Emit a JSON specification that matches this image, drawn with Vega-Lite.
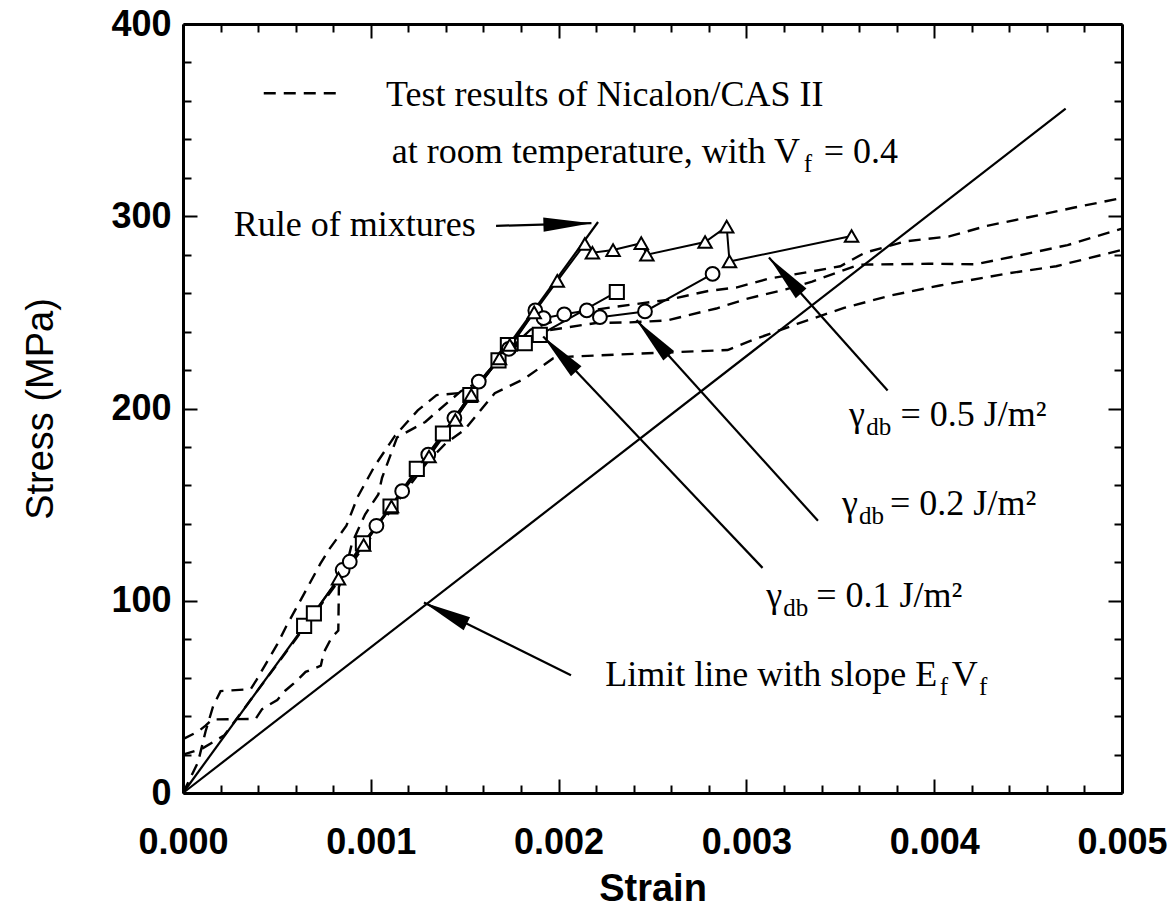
{
  "$schema": "https://vega.github.io/schema/vega-lite/v6.json",
  "width": 939,
  "height": 769,
  "autosize": {"type": "none"},
  "padding": {"left": 183, "top": 24, "right": 51, "bottom": 129},
  "background": "white",
  "config": {"view": {"stroke": null}},
  "datasets": {
    "tests": [
      {"curve": "A", "strain": 0, "stress": 0},
      {"curve": "A", "strain": 0.00008, "stress": 16},
      {"curve": "A", "strain": 0.00012, "stress": 32},
      {"curve": "A", "strain": 0.00016, "stress": 45},
      {"curve": "A", "strain": 0.0002, "stress": 53},
      {"curve": "A", "strain": 0.00036, "stress": 54},
      {"curve": "A", "strain": 0.00039, "stress": 58.6},
      {"curve": "A", "strain": 0.0005, "stress": 77},
      {"curve": "A", "strain": 0.00055, "stress": 86.7},
      {"curve": "A", "strain": 0.00063, "stress": 101},
      {"curve": "A", "strain": 0.00068, "stress": 110},
      {"curve": "A", "strain": 0.00073, "stress": 119},
      {"curve": "A", "strain": 0.00078, "stress": 127},
      {"curve": "A", "strain": 0.00087, "stress": 139},
      {"curve": "A", "strain": 0.00093, "stress": 154},
      {"curve": "A", "strain": 0.00102, "stress": 170},
      {"curve": "A", "strain": 0.00113, "stress": 186},
      {"curve": "A", "strain": 0.00125, "stress": 199},
      {"curve": "A", "strain": 0.00135, "stress": 207},
      {"curve": "A", "strain": 0.00147, "stress": 208},
      {"curve": "A", "strain": 0.00155, "stress": 211},
      {"curve": "A", "strain": 0.0017, "stress": 227},
      {"curve": "A", "strain": 0.00185, "stress": 241},
      {"curve": "A", "strain": 0.0021, "stress": 250},
      {"curve": "A", "strain": 0.00231, "stress": 253},
      {"curve": "A", "strain": 0.00258, "stress": 256.5},
      {"curve": "A", "strain": 0.00279, "stress": 261},
      {"curve": "A", "strain": 0.00295, "stress": 263},
      {"curve": "A", "strain": 0.00312, "stress": 267.6},
      {"curve": "A", "strain": 0.00335, "stress": 271.3},
      {"curve": "A", "strain": 0.0035, "stress": 274},
      {"curve": "A", "strain": 0.00363, "stress": 281},
      {"curve": "A", "strain": 0.00385, "stress": 287},
      {"curve": "A", "strain": 0.00408, "stress": 289.5},
      {"curve": "A", "strain": 0.00428, "stress": 295},
      {"curve": "A", "strain": 0.00451, "stress": 299.6},
      {"curve": "A", "strain": 0.00474, "stress": 304.4},
      {"curve": "A", "strain": 0.005, "stress": 309.5},
      {"curve": "B", "strain": 0, "stress": 28},
      {"curve": "B", "strain": 0.00008, "stress": 32},
      {"curve": "B", "strain": 0.00012, "stress": 35},
      {"curve": "B", "strain": 0.000155, "stress": 38.3},
      {"curve": "B", "strain": 0.000386, "stress": 38.5},
      {"curve": "B", "strain": 0.000421, "stress": 43.6},
      {"curve": "B", "strain": 0.000502, "stress": 48.4},
      {"curve": "B", "strain": 0.000544, "stress": 53.2},
      {"curve": "B", "strain": 0.00059, "stress": 57},
      {"curve": "B", "strain": 0.000653, "stress": 63},
      {"curve": "B", "strain": 0.000734, "stress": 66.2},
      {"curve": "B", "strain": 0.000749, "stress": 73},
      {"curve": "B", "strain": 0.000792, "stress": 81},
      {"curve": "B", "strain": 0.000827, "stress": 84.5},
      {"curve": "B", "strain": 0.00083, "stress": 107},
      {"curve": "B", "strain": 0.00087, "stress": 118},
      {"curve": "B", "strain": 0.0009, "stress": 130},
      {"curve": "B", "strain": 0.00097, "stress": 145},
      {"curve": "B", "strain": 0.00104, "stress": 155.3},
      {"curve": "B", "strain": 0.00106, "stress": 164},
      {"curve": "B", "strain": 0.00114, "stress": 185},
      {"curve": "B", "strain": 0.00129, "stress": 193},
      {"curve": "B", "strain": 0.00136, "stress": 199},
      {"curve": "B", "strain": 0.00148, "stress": 209},
      {"curve": "B", "strain": 0.00158, "stress": 214},
      {"curve": "B", "strain": 0.0017, "stress": 228},
      {"curve": "B", "strain": 0.0019, "stress": 240},
      {"curve": "B", "strain": 0.0022, "stress": 244.5},
      {"curve": "B", "strain": 0.00238, "stress": 244.8},
      {"curve": "B", "strain": 0.00258, "stress": 245.8},
      {"curve": "B", "strain": 0.00268, "stress": 248.3},
      {"curve": "B", "strain": 0.00284, "stress": 252},
      {"curve": "B", "strain": 0.003, "stress": 257},
      {"curve": "B", "strain": 0.00321, "stress": 262},
      {"curve": "B", "strain": 0.00335, "stress": 266},
      {"curve": "B", "strain": 0.0036, "stress": 274.8},
      {"curve": "B", "strain": 0.00397, "stress": 275.3},
      {"curve": "B", "strain": 0.00422, "stress": 275},
      {"curve": "B", "strain": 0.00447, "stress": 280},
      {"curve": "B", "strain": 0.00471, "stress": 285},
      {"curve": "B", "strain": 0.005, "stress": 293.6},
      {"curve": "C", "strain": 0, "stress": 20},
      {"curve": "C", "strain": 0.0001, "stress": 23},
      {"curve": "C", "strain": 0.00022, "stress": 30},
      {"curve": "C", "strain": 0.0006, "stress": 80},
      {"curve": "C", "strain": 0.001, "stress": 133},
      {"curve": "C", "strain": 0.0013, "stress": 172},
      {"curve": "C", "strain": 0.0014, "stress": 182},
      {"curve": "C", "strain": 0.0015, "stress": 189},
      {"curve": "C", "strain": 0.00166, "stress": 208},
      {"curve": "C", "strain": 0.00182, "stress": 215.6},
      {"curve": "C", "strain": 0.00197, "stress": 226},
      {"curve": "C", "strain": 0.00206, "stress": 227},
      {"curve": "C", "strain": 0.00254, "stress": 229},
      {"curve": "C", "strain": 0.0029, "stress": 230.4},
      {"curve": "C", "strain": 0.00303, "stress": 235.5},
      {"curve": "C", "strain": 0.00327, "stress": 244},
      {"curve": "C", "strain": 0.00352, "stress": 252.3},
      {"curve": "C", "strain": 0.00376, "stress": 258.6},
      {"curve": "C", "strain": 0.00403, "stress": 264},
      {"curve": "C", "strain": 0.0044, "stress": 270.4},
      {"curve": "C", "strain": 0.00465, "stress": 274},
      {"curve": "C", "strain": 0.005, "stress": 282.5}
    ],
    "key": [
      {"strain": 0.00043, "stress": 364},
      {"strain": 0.000845, "stress": 364}
    ],
    "refs": [
      {"line": "Rule of mixtures", "strain": 0, "stress": 0},
      {"line": "Rule of mixtures", "strain": 0.00221, "stress": 297},
      {"line": "Limit line", "strain": 0, "stress": 0},
      {"line": "Limit line", "strain": 0.0047, "stress": 356}
    ],
    "model": [
      {"gamma": "0.1", "strain": 0.000645, "stress": 86.9},
      {"gamma": "0.1", "strain": 0.000697, "stress": 93.4},
      {"gamma": "0.1", "strain": 0.000958, "stress": 129.9},
      {"gamma": "0.1", "strain": 0.001105, "stress": 149},
      {"gamma": "0.1", "strain": 0.001245, "stress": 168.6},
      {"gamma": "0.1", "strain": 0.001384, "stress": 187},
      {"gamma": "0.1", "strain": 0.00153, "stress": 207},
      {"gamma": "0.1", "strain": 0.00168, "stress": 225},
      {"gamma": "0.1", "strain": 0.00173, "stress": 233},
      {"gamma": "0.1", "strain": 0.00182, "stress": 234},
      {"gamma": "0.1", "strain": 0.0019, "stress": 238.3},
      {"gamma": "0.1", "strain": 0.00231, "stress": 260.6},
      {"gamma": "0.2", "strain": 0.00085, "stress": 116},
      {"gamma": "0.2", "strain": 0.000888, "stress": 120.3},
      {"gamma": "0.2", "strain": 0.00103, "stress": 139},
      {"gamma": "0.2", "strain": 0.001167, "stress": 157},
      {"gamma": "0.2", "strain": 0.001306, "stress": 176},
      {"gamma": "0.2", "strain": 0.001445, "stress": 195},
      {"gamma": "0.2", "strain": 0.001575, "stress": 214},
      {"gamma": "0.2", "strain": 0.001735, "stress": 231},
      {"gamma": "0.2", "strain": 0.001876, "stress": 251},
      {"gamma": "0.2", "strain": 0.00192, "stress": 247},
      {"gamma": "0.2", "strain": 0.00203, "stress": 249},
      {"gamma": "0.2", "strain": 0.00215, "stress": 251},
      {"gamma": "0.2", "strain": 0.00222, "stress": 247.5},
      {"gamma": "0.2", "strain": 0.00246, "stress": 250.5},
      {"gamma": "0.2", "strain": 0.00282, "stress": 270},
      {"gamma": "0.5", "strain": 0.000828, "stress": 111.5},
      {"gamma": "0.5", "strain": 0.000962, "stress": 129},
      {"gamma": "0.5", "strain": 0.00111, "stress": 149},
      {"gamma": "0.5", "strain": 0.00131, "stress": 175},
      {"gamma": "0.5", "strain": 0.00145, "stress": 194},
      {"gamma": "0.5", "strain": 0.001535, "stress": 207},
      {"gamma": "0.5", "strain": 0.001685, "stress": 226},
      {"gamma": "0.5", "strain": 0.00174, "stress": 233},
      {"gamma": "0.5", "strain": 0.00187, "stress": 250},
      {"gamma": "0.5", "strain": 0.001993, "stress": 266.4},
      {"gamma": "0.5", "strain": 0.00214, "stress": 285.6},
      {"gamma": "0.5", "strain": 0.00218, "stress": 281},
      {"gamma": "0.5", "strain": 0.00229, "stress": 282.4},
      {"gamma": "0.5", "strain": 0.00244, "stress": 286},
      {"gamma": "0.5", "strain": 0.00247, "stress": 280},
      {"gamma": "0.5", "strain": 0.00278, "stress": 286.6},
      {"gamma": "0.5", "strain": 0.002895, "stress": 294.6},
      {"gamma": "0.5", "strain": 0.00291, "stress": 276.5},
      {"gamma": "0.5", "strain": 0.00356, "stress": 289.7}
    ],
    "arrows": [
      {"name": "Rule of mixtures", "strain": 0.001667, "stress": 295, "strain2": 0.002175, "stress2": 296.4},
      {"name": "gamma 0.5", "strain": 0.003752, "stress": 209.4, "strain2": 0.00312, "stress2": 278.5},
      {"name": "gamma 0.2", "strain": 0.003381, "stress": 141.6, "strain2": 0.002415, "stress2": 246},
      {"name": "gamma 0.1", "strain": 0.003086, "stress": 117.1, "strain2": 0.001918, "stress2": 237.4},
      {"name": "Limit line", "strain": 0.002066, "stress": 61.3, "strain2": 0.001283, "stress2": 99.1}
    ],
    "heads": [
      {"name": "Rule of mixtures", "strain": 0.002047, "stress": 296.0, "angle": 88.4},
      {"name": "gamma 0.5", "strain": 0.003206, "stress": 269.2, "angle": -41.8},
      {"name": "gamma 0.2", "strain": 0.0025005, "stress": 236.7, "angle": -42.1},
      {"name": "gamma 0.1", "strain": 0.002006, "stress": 228.4, "angle": -43.5},
      {"name": "Limit line", "strain": 0.001397, "stress": 93.6, "angle": -63.7}
    ],
    "notes": [
      {"text": "Test results of Nicalon/CAS II", "strain": 0.001081, "stress": 357.1},
      {"text": "at room temperature, with V", "strain": 0.001112, "stress": 327.5},
      {"text": "= 0.4", "strain": 0.003412, "stress": 327.5},
      {"text": "Rule of mixtures", "strain": 0.00027, "stress": 289.6},
      {"text": "γ", "strain": 0.003546, "stress": 190.9},
      {"text": "= 0.5 J/m²", "strain": 0.00382, "stress": 190.9},
      {"text": "γ", "strain": 0.003509, "stress": 144.4},
      {"text": "= 0.2 J/m²", "strain": 0.003765, "stress": 144.4},
      {"text": "γ", "strain": 0.003106, "stress": 96.9},
      {"text": "= 0.1 J/m²", "strain": 0.003372, "stress": 96.9},
      {"text": "Limit line with slope E", "strain": 0.002248, "stress": 55.8},
      {"text": "V", "strain": 0.004094, "stress": 55.8}
    ],
    "subs": [
      {"text": "f", "strain": 0.003305, "stress": 327.5},
      {"text": "db", "strain": 0.003638, "stress": 190.9},
      {"text": "db", "strain": 0.003599, "stress": 144.4},
      {"text": "db", "strain": 0.003196, "stress": 96.9},
      {"text": "f", "strain": 0.00403, "stress": 55.8},
      {"text": "f", "strain": 0.004238, "stress": 55.8}
    ]
  },
  "encoding": {
    "x": {"field": "strain", "type": "quantitative", "scale": {"domain": [0, 0.005], "nice": false, "zero": false}, "axis": null},
    "y": {"field": "stress", "type": "quantitative", "scale": {"domain": [0, 400], "nice": false, "zero": false}, "axis": null}
  },
  "resolve": {"axis": {"x": "independent", "y": "independent"}},
  "layer": [
    {
      "data": {"name": "tests"},
      "mark": {"type": "line", "color": "black", "strokeWidth": 2.4, "strokeDash": [12, 8]},
      "encoding": {
        "detail": {"field": "curve"},
        "x": {"field": "strain", "type": "quantitative", "scale": {"domain": [0, 0.005], "nice": false, "zero": false},
          "axis": {
            "orient": "bottom",
            "values": [0, 0.0002, 0.0004, 0.0006, 0.0008, 0.001, 0.0012, 0.0014, 0.0016, 0.0018, 0.002, 0.0022, 0.0024, 0.0026, 0.0028, 0.003, 0.0032, 0.0034, 0.0036, 0.0038, 0.004, 0.0042, 0.0044, 0.0046, 0.0048, 0.005],
            "labelExpr": "abs(datum.value*1000 - round(datum.value*1000)) < 0.000001 ? format(datum.value, '.3f') : ''",
            "tickSize": {"condition": {"test": "abs(datum.value*1000 - round(datum.value*1000)) < 0.000001", "value": -14}, "value": -8},
            "tickWidth": 2, "tickColor": "black", "domainWidth": 3, "domainColor": "black",
            "labelFont": "Liberation Sans", "labelFontSize": 36, "labelFontWeight": "bold", "labelColor": "black",
            "labelPadding": 46, "labelOverlap": false, "labelFlush": false, "labelBound": false,
            "title": "Strain", "titleFont": "Liberation Sans", "titleFontSize": 38, "titleFontWeight": "bold", "titleColor": "black", "titlePadding": 4,
            "grid": false
          }
        },
        "y": {"field": "stress", "type": "quantitative", "scale": {"domain": [0, 400], "nice": false, "zero": false},
          "axis": {
            "orient": "left",
            "values": [0, 20, 40, 60, 80, 100, 120, 140, 160, 180, 200, 220, 240, 260, 280, 300, 320, 340, 360, 380, 400],
            "labelExpr": "datum.value % 100 === 0 ? format(datum.value, 'd') : ''",
            "tickSize": {"condition": {"test": "datum.value % 100 === 0", "value": -14}, "value": -8},
            "tickWidth": 2, "tickColor": "black", "domainWidth": 3, "domainColor": "black",
            "labelFont": "Liberation Sans", "labelFontSize": 36, "labelFontWeight": "bold", "labelColor": "black",
            "labelPadding": 26, "labelOverlap": false, "labelFlush": false, "labelBound": false,
            "title": "Stress (MPa)", "titleFont": "Liberation Sans", "titleFontSize": 38, "titleFontWeight": "normal", "titleColor": "black", "titlePadding": 50,
            "grid": false
          }
        }
      }
    },
    {
      "data": {"name": "refs"},
      "mark": {"type": "line", "color": "black", "strokeWidth": 2.2},
      "encoding": {
        "detail": {"field": "line"},
        "x": {"field": "strain", "type": "quantitative", "scale": {"domain": [0, 0.005], "nice": false, "zero": false},
          "axis": {
            "orient": "top",
            "values": [0, 0.0002, 0.0004, 0.0006, 0.0008, 0.001, 0.0012, 0.0014, 0.0016, 0.0018, 0.002, 0.0022, 0.0024, 0.0026, 0.0028, 0.003, 0.0032, 0.0034, 0.0036, 0.0038, 0.004, 0.0042, 0.0044, 0.0046, 0.0048, 0.005],
            "labels": false,
            "tickSize": {"condition": {"test": "abs(datum.value*1000 - round(datum.value*1000)) < 0.000001", "value": -14}, "value": -8},
            "tickWidth": 2, "tickColor": "black", "domainWidth": 3, "domainColor": "black",
            "title": null, "grid": false
          }
        },
        "y": {"field": "stress", "type": "quantitative", "scale": {"domain": [0, 400], "nice": false, "zero": false},
          "axis": {
            "orient": "right",
            "values": [0, 20, 40, 60, 80, 100, 120, 140, 160, 180, 200, 220, 240, 260, 280, 300, 320, 340, 360, 380, 400],
            "labels": false,
            "tickSize": {"condition": {"test": "datum.value % 100 === 0", "value": -14}, "value": -8},
            "tickWidth": 2, "tickColor": "black", "domainWidth": 3, "domainColor": "black",
            "title": null, "grid": false
          }
        }
      }
    },
    {
      "data": {"name": "key"},
      "mark": {"type": "line", "color": "black", "strokeWidth": 2.4, "strokeDash": [12, 8]},
      "encoding": {}
    },
    {
      "data": {"name": "model"},
      "mark": {"type": "line", "color": "black", "strokeWidth": 2},
      "encoding": {"detail": {"field": "gamma"}}
    },
    {
      "data": {"name": "model"},
      "mark": {"type": "point", "filled": true, "fill": "white", "stroke": "black", "strokeWidth": 2, "opacity": 1},
      "encoding": {
        "shape": {"field": "gamma", "type": "nominal", "scale": {"domain": ["0.1", "0.2", "0.5"], "range": ["square", "circle", "triangle-up"]}, "legend": null},
        "size": {"field": "gamma", "type": "nominal", "scale": {"domain": ["0.1", "0.2", "0.5"], "range": [200, 180, 260]}, "legend": null}
      }
    },
    {
      "data": {"name": "arrows"},
      "mark": {"type": "rule", "color": "black", "strokeWidth": 2.2},
      "encoding": {
        "x2": {"field": "strain2"},
        "y2": {"field": "stress2"}
      }
    },
    {
      "data": {"name": "heads"},
      "mark": {"type": "point", "shape": "M0,-1L0.3,1L-0.3,1Z", "filled": true, "color": "black", "opacity": 1, "size": 2304},
      "encoding": {
        "angle": {"field": "angle", "type": "quantitative", "scale": null}
      }
    },
    {
      "data": {"name": "notes"},
      "mark": {"type": "text", "font": "Liberation Serif", "fontSize": 36, "align": "left", "baseline": "alphabetic", "color": "black"},
      "encoding": {"text": {"field": "text"}}
    },
    {
      "data": {"name": "subs"},
      "mark": {"type": "text", "font": "Liberation Serif", "fontSize": 25, "align": "left", "baseline": "alphabetic", "dy": 9, "color": "black"},
      "encoding": {"text": {"field": "text"}}
    }
  ]
}
